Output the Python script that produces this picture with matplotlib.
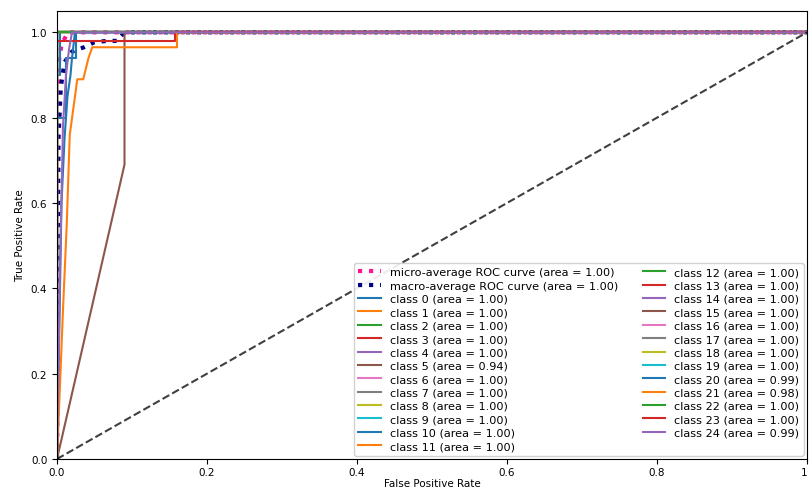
import matplotlib
matplotlib.use("Agg")
import matplotlib.pyplot as plt

# ROC curve points (false positive rate, true positive rate) for each curve
micro_fpr = [0, 0.001, 0.003, 0.006, 0.010, 0.015, 1]
micro_tpr = [0, 0.85, 0.94, 0.97, 0.985, 1.0, 1.0]
micro_auc = 1.00

macro_fpr = [0, 0.002, 0.005, 0.010, 0.020, 0.036, 0.050, 0.067, 0.080, 0.090, 1]
macro_tpr = [0, 0.75, 0.87, 0.93, 0.955, 0.965, 0.977, 0.98, 0.98, 1.0, 1.0]
macro_auc = 1.00

perfect_fpr = [0, 0, 1]
perfect_tpr = [0, 1, 1]

class_fpr = {
    0: [0, 0, 0.004, 0.004, 1],
    5: [0, 0.09, 0.09, 1],
    10: [0, 0, 0.012, 0.012, 0.025, 0.025, 1],
    20: [0, 0.003, 0.006, 0.010, 0.014, 0.018, 0.020, 0.024, 1],
    21: [0, 0.008, 0.013, 0.017, 0.024, 0.027, 0.035, 0.042, 0.047, 0.16, 0.16, 1],
    23: [0, 0, 0.157, 0.157, 1],
    24: [0, 0.004, 0.008, 0.012, 0.016, 0.020, 1],
}
class_tpr = {
    0: [0, 0.9, 0.9, 1, 1],
    5: [0, 0.69, 1, 1],
    10: [0, 0.8, 0.8, 0.94, 0.94, 1, 1],
    20: [0, 0.3, 0.6, 0.75, 0.85, 0.9, 0.94, 1, 1],
    21: [0, 0.35, 0.55, 0.76, 0.85, 0.89, 0.89, 0.94, 0.965, 0.965, 1, 1],
    23: [0, 0.98, 0.98, 1, 1],
    24: [0, 0.45, 0.78, 0.9, 0.96, 1, 1],
}
class_auc = [1.00, 1.00, 1.00, 1.00, 1.00, 0.94, 1.00, 1.00, 1.00, 1.00,
             1.00, 1.00, 1.00, 1.00, 1.00, 1.00, 1.00, 1.00, 1.00, 1.00,
             0.99, 0.98, 1.00, 1.00, 0.99]
n_classes = len(class_auc)

x_ticks = [0.0, 0.2, 0.4, 0.6, 0.8, 1.0]
x_tick_labels = ["0.0", "0.2", "0.4", "0.6", "0.8", "1"]

plt.rcParams["font.family"] = ["DejaVu Sans"]
plt.rcParams["font.size"] = 7.5

fig = plt.figure(figsize=(8.09, 4.89), dpi=100)
ax = fig.add_axes([57 / 809, 29 / 489, 750 / 809, 448 / 489])

ax.plot(micro_fpr, micro_tpr, color="deeppink", linestyle=":", linewidth=3,
        label="micro-average ROC curve (area = {0:0.2f})".format(micro_auc))
ax.plot(macro_fpr, macro_tpr, color="navy", linestyle=":", linewidth=3,
        label="macro-average ROC curve (area = {0:0.2f})".format(macro_auc))

colors = plt.rcParams["axes.prop_cycle"].by_key()["color"]
for i in range(n_classes):
    fpr = class_fpr.get(i, perfect_fpr)
    tpr = class_tpr.get(i, perfect_tpr)
    ax.plot(fpr, tpr, color=colors[i % len(colors)], linewidth=1.5,
            label="class {0} (area = {1:0.2f})".format(i, class_auc[i]))

ax.plot([0, 1], [0, 1], "k--", linewidth=1.5, alpha=0.75)

ax.set_xlim(0.0, 1.0)
ax.set_ylim(0.0, 1.05)
ax.set_xticks(x_ticks)
ax.set_xticklabels(x_tick_labels)
ax.get_xticklabels()[-1].set_horizontalalignment("right")
ax.tick_params(axis="x", pad=2)
ax.set_xlabel("False Positive Rate", labelpad=1)
ax.set_ylabel("True Positive Rate")

ax.legend(loc="lower right", ncol=2, fontsize=8.1, labelspacing=0.3,
          columnspacing=2.2, borderaxespad=0.3, framealpha=0.9)

fig.savefig("out.png", dpi=100)
